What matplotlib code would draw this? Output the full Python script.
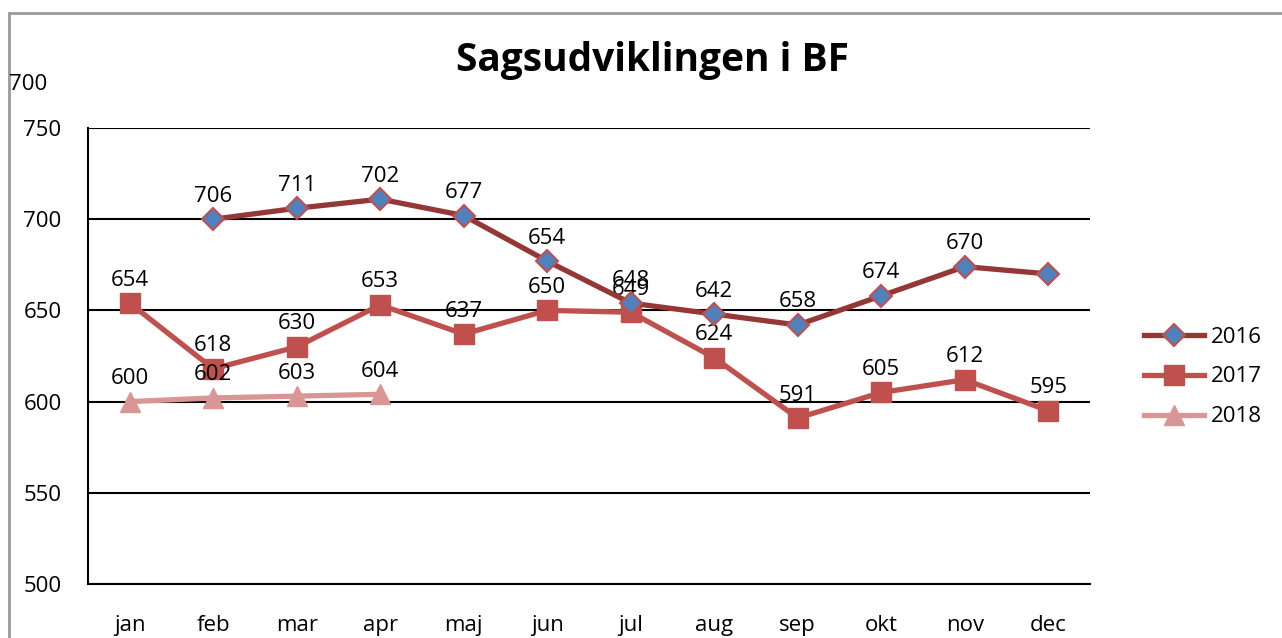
import numpy as np
import matplotlib
matplotlib.use("Agg")
import matplotlib.pyplot as plt
from matplotlib.patches import Rectangle

plt.rcParams["font.family"] = ["Open Sans", "DejaVu Sans"]

months = ["jan", "feb", "mar", "apr", "maj", "jun", "jul", "aug", "sep", "okt", "nov", "dec"]
values_2016 = [np.nan, 700, 706, 711, 702, 677, 654, 648, 642, 658, 674, 670]
labels_2016 = ["", "706", "711", "702", "677", "654", "648", "642", "658", "674", "670", ""]
values_2017 = [654, 618, 630, 653, 637, 650, 649, 624, 591, 605, 612, 595]
values_2018 = [600, 602, 603, 604]
stray_label = "700"

fs = 16

fig = plt.figure(figsize=(12.82, 6.38), dpi=100)
fig.patches.append(Rectangle((9 / 1282, -0.1), 1.2, 1 - 13 / 638 + 0.1,
                             transform=fig.transFigure, fill=False,
                             edgecolor="#9a9a9a", linewidth=2))
ax = fig.add_axes([88 / 1282, 1 - 584 / 638, 1002 / 1282, 456 / 638])

x = np.arange(len(months))
l16, = ax.plot(x, values_2016, color="#953735", lw=3.8, marker="D", ms=11,
               mfc="#4F81BD", mec="#C0504D", mew=1.5, zorder=4, label="2016")
l17, = ax.plot(x, values_2017, color="#C0504D", lw=3.8, marker="s", ms=15,
               mfc="#C0504D", mec="#C0504D", zorder=3, label="2017")
l18, = ax.plot(x[:len(values_2018)], values_2018, color="#D99694", lw=3.8,
               marker="^", ms=15, mfc="#D99694", mec="#D99694", zorder=2, label="2018")

for xi, v, lab in zip(x, values_2016, labels_2016):
    if lab:
        ax.annotate(lab, (xi, v), xytext=(0, 9), textcoords="offset points",
                    ha="center", va="bottom", fontsize=fs)
for xi, v in zip(x, values_2017):
    ax.annotate(str(v), (xi, v), xytext=(0, 9), textcoords="offset points",
                ha="center", va="bottom", fontsize=fs)
for xi, v in zip(x, values_2018):
    ax.annotate(str(v), (xi, v), xytext=(0, 9), textcoords="offset points",
                ha="center", va="bottom", fontsize=fs)

fig.text(9 / 1282, 1 - 85 / 638, stray_label, ha="left", va="center", fontsize=fs)

ax.set_xlim(-0.5, 11.5)
ax.set_ylim(500, 750)
ax.set_yticks(np.arange(500, 751, 50))
ax.set_xticks(x)
ax.set_xticklabels(months)
ax.tick_params(axis="both", length=0, labelsize=fs)
ax.tick_params(axis="y", pad=19)
ax.tick_params(axis="x", pad=22)
ax.grid(axis="y", color="black", lw=1.5)
ax.set_axisbelow(True)
for s in ["top", "right"]:
    ax.spines[s].set_visible(False)
for s in ["left", "bottom"]:
    ax.spines[s].set_color("black")
    ax.spines[s].set_linewidth(1.5)

fig.text(652 / 1282, 1 - 60 / 638, "Sagsudviklingen i BF", ha="center", va="center",
         fontsize=28, fontweight="bold")

fig.legend(handles=[l16, l17, l18], loc="center left",
           bbox_to_anchor=(1124 / 1282, 1 - 377 / 638), frameon=False,
           fontsize=fs, handlelength=2.7, labelspacing=0.85, handletextpad=0.3)

fig.savefig("out.png", dpi=100)
